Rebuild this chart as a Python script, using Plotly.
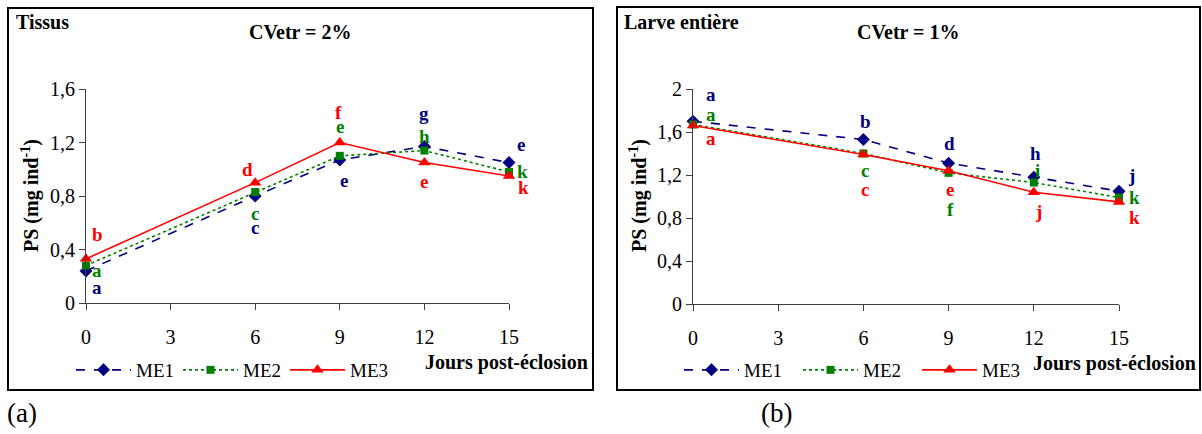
import plotly.graph_objects as go

W, H = 1202, 434

days = [0, 6, 9, 12, 15]
x_ticks = [0, 3, 6, 9, 12, 15]

tissus_me1 = [0.24, 0.80, 1.07, 1.17, 1.05]
tissus_me2 = [0.28, 0.83, 1.10, 1.14, 0.98]
tissus_me3 = [0.33, 0.90, 1.20, 1.05, 0.95]

larve_me1 = [1.70, 1.53, 1.31, 1.18, 1.05]
larve_me2 = [1.67, 1.40, 1.22, 1.13, 0.99]
larve_me3 = [1.66, 1.39, 1.24, 1.04, 0.95]

tissus_lbl_me1 = ["a", "c", "e", "g", "e"]
tissus_lbl_me2 = ["a", "c", "e", "h", "k"]
tissus_lbl_me3 = ["b", "d", "f", "e", "k"]
larve_lbl_me1 = ["a", "b", "d", "h", "j"]
larve_lbl_me2 = ["a", "c", "f", "i", "k"]
larve_lbl_me3 = ["a", "c", "e", "j", "k"]

tissus_yticks = [0, 0.4, 0.8, 1.2, 1.6]
tissus_yticktext = ["0", "0,4", "0,8", "1,2", "1,6"]
larve_yticks = [0, 0.4, 0.8, 1.2, 1.6, 2]
larve_yticktext = ["0", "0,4", "0,8", "1,2", "1,6", "2"]

# label offsets in px (style/layout, not data)
tissus_off_me1 = [(11, -17), (0, -32), (4, -21), (0, 33), (12, 18)]
tissus_off_me2 = [(11, -5), (0, -22), (0, 29), (0, 14), (13, 0)]
tissus_off_me3 = [(11, 24), (-8, 13), (-1, 30), (0, -19), (14, -12)]
larve_off_me1 = [(18, 27), (2, 18), (1, 20), (2, 24), (12, 16)]
larve_off_me2 = [(18, 10), (2, -17), (2, -37), (4, 12), (15, 0)]
larve_off_me3 = [(18, -13), (2, -35), (1, -19), (5, -19), (15, -16)]

NAVY, GREEN, RED = "#000080", "#008000", "#FF0000"
FONT = "Liberation Serif, Times New Roman, serif"
AX = "#404040"

styles = {
    "ME1": dict(color=NAVY, dash="dash", symbol="diamond", size=10),
    "ME2": dict(color=GREEN, dash="dot", symbol="square", size=8),
    "ME3": dict(color=RED, dash="solid", symbol="triangle-up", size=11),
}

fig = go.Figure()

panels = [
    ("x", "y", "legend", [("ME1", tissus_me1, tissus_lbl_me1, tissus_off_me1),
                          ("ME2", tissus_me2, tissus_lbl_me2, tissus_off_me2),
                          ("ME3", tissus_me3, tissus_lbl_me3, tissus_off_me3)]),
    ("x2", "y2", "legend2", [("ME1", larve_me1, larve_lbl_me1, larve_off_me1),
                             ("ME2", larve_me2, larve_lbl_me2, larve_off_me2),
                             ("ME3", larve_me3, larve_lbl_me3, larve_off_me3)]),
]

annotations = []
for xa, ya, leg, series in panels:
    for name, vals, lbls, offs in series:
        st = styles[name]
        fig.add_trace(go.Scatter(
            x=days, y=vals, name=name, mode="lines+markers",
            xaxis=xa, yaxis=ya, legend=leg, cliponaxis=False,
            line=dict(color=st["color"], dash=st["dash"], width=1.6),
            marker=dict(symbol=st["symbol"], size=st["size"], color=st["color"]),
        ))
        for d, v, t, (dx, dy) in zip(days, vals, lbls, offs):
            annotations.append(dict(
                x=d, y=v, xref=xa, yref=ya, text="<b>%s</b>" % t, showarrow=False,
                xshift=dx, yshift=dy, font=dict(family=FONT, size=19, color=st["color"])))


def px(x):
    return x / W


def py(y):
    return 1 - y / H


def text_ann(x, y, text, size=20, xanchor="center", angle=0):
    return dict(x=px(x), y=py(y), xref="paper", yref="paper", text=text, showarrow=False,
                xanchor=xanchor, yanchor="middle", textangle=angle,
                font=dict(family=FONT, size=size, color="black"))


annotations += [
    text_ann(14, 22, "<b>Tissus</b>", 20, "left"),
    text_ann(622, 22, "<b>Larve entière</b>", 20, "left"),
    text_ann(300, 32, "<b>CVetr = 2%</b>", 20),
    text_ann(908, 32, "<b>CVetr = 1%</b>", 20),
    text_ann(506, 362, "<b>Jours post-éclosion</b>", 20),
    text_ann(1114, 363, "<b>Jours post-éclosion</b>", 20),
    text_ann(30, 196, "<b>PS (mg ind<sup>-1</sup>)</b>", 20, angle=-90),
    text_ann(638, 196, "<b>PS (mg ind<sup>-1</sup>)</b>", 20, angle=-90),
    text_ann(22, 413, "(a)", 27),
    text_ann(776, 413, "(b)", 27),
]

axis_common = dict(showline=True, linecolor=AX, linewidth=1, ticks="outside", ticklen=6,
                   tickcolor=AX, showgrid=False, zeroline=False, automargin=False,
                   tickfont=dict(family=FONT, size=20, color="black"))

fig.update_layout(
    width=W, height=H, margin=dict(l=0, r=0, t=0, b=0, autoexpand=False),
    paper_bgcolor="white", plot_bgcolor="white",
    xaxis=dict(domain=[px(86), px(509)], range=[0, 15], tickvals=x_ticks, anchor="y",
               ticklabelstandoff=10, **axis_common),
    yaxis=dict(domain=[py(303), py(89)], range=[0, 1.6], tickvals=tissus_yticks,
               ticktext=tissus_yticktext, anchor="x", **axis_common),
    xaxis2=dict(domain=[px(693), px(1119)], range=[0, 15], tickvals=x_ticks, anchor="y2",
                ticklabelstandoff=10, **axis_common),
    yaxis2=dict(domain=[py(304), py(89)], range=[0, 2], tickvals=larve_yticks,
                ticktext=larve_yticktext, anchor="x2", **axis_common),
    legend=dict(orientation="h", x=px(71), y=py(370), xanchor="left", yanchor="middle",
                itemwidth=55, entrywidth=37, font=dict(family=FONT, size=19, color="black"),
                bgcolor="rgba(0,0,0,0)"),
    legend2=dict(orientation="h", x=px(679), y=py(370), xanchor="left", yanchor="middle",
                 itemwidth=55, entrywidth=49, font=dict(family=FONT, size=19, color="black"),
                 bgcolor="rgba(0,0,0,0)"),
    annotations=annotations,
    shapes=[
        dict(type="rect", xref="paper", yref="paper", x0=px(8), x1=px(593), y0=py(390), y1=py(8),
             line=dict(color="black", width=2)),
        dict(type="rect", xref="paper", yref="paper", x0=px(617), x1=px(1200), y0=py(390), y1=py(7),
             line=dict(color="black", width=2)),
    ],
)

fig.write_html("out.html", config={"displayModeBar": False},
               post_script="document.body.style.margin='0';document.body.style.overflow='hidden';")
